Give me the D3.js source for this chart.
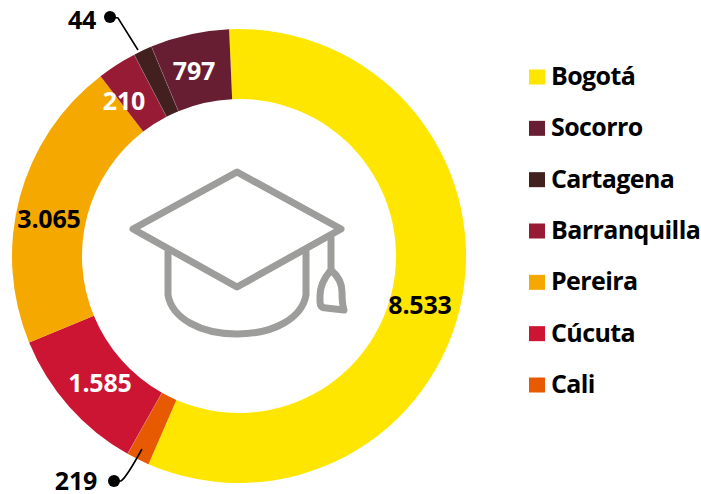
<!DOCTYPE html>
<html><head><meta charset="utf-8">
<script src="https://cdn.jsdelivr.net/npm/d3@7"></script>
<style>html,body{margin:0;padding:0;background:#fff}svg{display:block}text{font-family:"Open Sans",sans-serif;font-weight:700}</style>
</head><body><svg id="c" width="701" height="494"></svg>
<script>
// Category names and printed values
const categories = ["Bogotá","Cali","Cúcuta","Pereira","Barranquilla","Cartagena","Socorro"];
const printedLabels = ["8.533","219","1.585","3.065","210","44","797"];
// Sweep of each slice in degrees, measured on the picture (small slices are drawn wider than their value)
const sweeps = [206, 5.9, 38.2, 74.8, 10.1, 4.8, 20.2];
const colors = ["#FFE600","#E85A00","#CC1532","#F5A800","#981B35","#41201F","#671E33"];
const legendOrder = ["Bogotá","Socorro","Cartagena","Barranquilla","Pereira","Cúcuta","Cali"];

const cx=239,cy=256,R=227,r0=157;
const svg=d3.select("#c");
const color=d3.scaleOrdinal(categories,colors);
const rad=d=>d*Math.PI/180;
const pie=d3.pie().sort(null).value(d=>d.sweep).startAngle(rad(-2.5)).endAngle(rad(357.5));
const arc=d3.arc().innerRadius(r0).outerRadius(R);
const data=pie(categories.map((c,i)=>({name:c,sweep:sweeps[i],label:printedLabels[i]})));
const g=svg.append("g").attr("transform",`translate(${cx},${cy})`);
g.selectAll("path.s").data(data).join("path").attr("class","s").attr("d",arc).attr("fill",d=>color(d.data.name));
// faint hairlines between neighbouring dark slices
g.selectAll("line.seam").data([2,5,6]).join("line").attr("class","seam")
 .attr("x1",i=>r0*Math.sin(data[i].startAngle)).attr("y1",i=>-r0*Math.cos(data[i].startAngle))
 .attr("x2",i=>R*Math.sin(data[i].startAngle)).attr("y2",i=>-R*Math.cos(data[i].startAngle))
 .attr("stroke","#fff").attr("stroke-opacity",.28).attr("stroke-width",.6);

// value label placement
const place={"Bogotá":[420,304,"#000"],"Cúcuta":[100,382,"#fff"],"Pereira":[49,218,"#000"],"Barranquilla":[124,100,"#fff"],"Socorro":[194,69.5,"#fff"],"Cartagena":[82,19,"#000"],"Cali":[76,480,"#000"]};
data.forEach(d=>{
  const p=place[d.data.name];
  svg.append("text").attr("x",p[0]).attr("y",p[1]).attr("text-anchor","middle").attr("dominant-baseline","central")
    .attr("font-size",25).attr("letter-spacing","-0.2").attr("fill",p[2]).text(d.data.label);
});
// leaders
svg.append("circle").attr("cx",110).attr("cy",17).attr("r",6).attr("fill","#000");
svg.append("path").attr("d","M110 17L118 18L138 50").attr("fill","none").attr("stroke","#000").attr("stroke-width",1.6);
svg.append("circle").attr("cx",114).attr("cy",481).attr("r",6).attr("fill","#000");
svg.append("path").attr("d","M114 481L121 481Q126 478 142 449").attr("fill","none").attr("stroke","#000").attr("stroke-width",1.6);

// graduation cap icon
const icon=svg.append("g").attr("fill","none").attr("stroke","#9d9d9c").attr("stroke-width",7).attr("stroke-linejoin","round").attr("stroke-linecap","round");
icon.append("path").attr("d","M237 172L341 229L237 287L133 229Z");
icon.append("path").attr("d","M168 252V295C172 318 200 334 237 334C274 334 302 318 306 295V252");
icon.append("path").attr("d","M331 238V270");
icon.append("path").attr("d","M331 270C324 278 320 286 320 296V302Q320 308 326 308L344 310C342 304 342 300 342 292C342 284 338 276 331 270Z");

// legend
const y0=d3.scalePoint().domain(legendOrder).range([77,385]);
const lg=svg.append("g").selectAll("g").data(legendOrder).join("g").attr("transform",d=>`translate(529,${y0(d)})`);
lg.append("rect").attr("x",0).attr("y",-7.5).attr("width",16).attr("height",15).attr("fill",d=>color(d));
lg.append("text").attr("x",22).attr("y",-2).attr("dominant-baseline","central").attr("font-size",25).attr("letter-spacing","-0.6").attr("fill","#000").text(d=>d);
</script></body></html>
